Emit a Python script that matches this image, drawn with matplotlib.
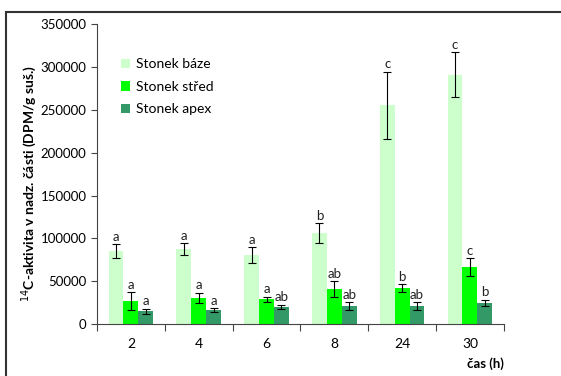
import numpy as np
import matplotlib.pyplot as plt
from matplotlib.patches import Rectangle

plt.rcParams['font.family'] = ['Lato', 'DejaVu Sans']

times = ['2', '4', '6', '8', '24', '30']
series = ['Stonek báze', 'Stonek střed', 'Stonek apex']
baze = [85300, 87600, 80600, 106300, 255400, 290900]
stred = [26900, 30400, 29200, 40900, 42000, 66600]
apex = [15200, 16400, 19900, 21000, 21000, 24500]
baze_err = [7600, 6600, 9300, 11700, 39000, 26000]
stred_err = [10000, 6200, 3000, 9300, 4500, 10000]
apex_err = [3000, 2500, 2700, 4300, 4700, 3900]
baze_lab = ['a', 'a', 'a', 'b', 'c', 'c']
stred_lab = ['a', 'a', 'a', 'ab', 'b', 'c']
apex_lab = ['a', 'a', 'ab', 'ab', 'ab', 'b']

colors = ['#CCFFCC', '#00FF00', '#339966']

fig = plt.figure(figsize=(5.61, 3.76), dpi=100)
ax = fig.add_axes([0.173, 0.138, 0.725, 0.798])

x = np.arange(len(times))
w = 0.22
vals = [baze, stred, apex]
errs = [baze_err, stred_err, apex_err]
labs = [baze_lab, stred_lab, apex_lab]
for i in range(3):
    pos = x + (i - 1) * w
    ax.bar(pos, vals[i], w, color=colors[i], label=series[i], zorder=2)
    ax.errorbar(pos, vals[i], yerr=errs[i], fmt='none', ecolor='black',
                elinewidth=0.8, capsize=3, capthick=0.8, zorder=3)
    for p, v, e, t in zip(pos, vals[i], errs[i], labs[i]):
        ax.text(p, v + e + 1500, t, ha='center', va='bottom', fontsize=9.5, color='#222222')

ax.set_xlim(-0.5, 5.5)
ax.set_ylim(0, 350000)
ax.set_yticks(np.arange(0, 350001, 50000))
ax.set_xticks(np.arange(-0.5, 6, 1))
ax.set_xticklabels([])
ax.set_xticks(x, minor=True)
ax.set_xticklabels(times, minor=True)
ax.tick_params(axis='x', which='major', length=5, direction='out', color='#444444')
ax.tick_params(axis='x', which='minor', length=0, pad=10, labelsize=10)
ax.tick_params(axis='y', length=4, direction='out', color='#444444', labelsize=9.5)
for s in ['top', 'right']:
    ax.spines[s].set_visible(False)
for s in ['left', 'bottom']:
    ax.spines[s].set_color('#444444')

ax.set_ylabel('$^{14}$C-aktivita v nadz. části (DPM/g suš.)', fontsize=10, fontweight='bold')
ax.yaxis.set_label_coords(-0.143, 0.47)
ax.text(1.0, -0.11, 'čas (h)', transform=ax.transAxes, ha='right', va='top',
        fontsize=9.5, fontweight='bold')

ax.legend(loc='upper left', bbox_to_anchor=(0.027, 0.927), frameon=False, fontsize=10,
          handlelength=0.7, handleheight=0.7, handletextpad=0.4, labelspacing=0.75)

fig.patches.append(Rectangle((6 / 561, -0.1), 1.2, 1 - 12 / 376 + 0.1, transform=fig.transFigure,
                             fill=False, edgecolor='#333333', linewidth=1.5))

fig.savefig('out.png', dpi=100)
